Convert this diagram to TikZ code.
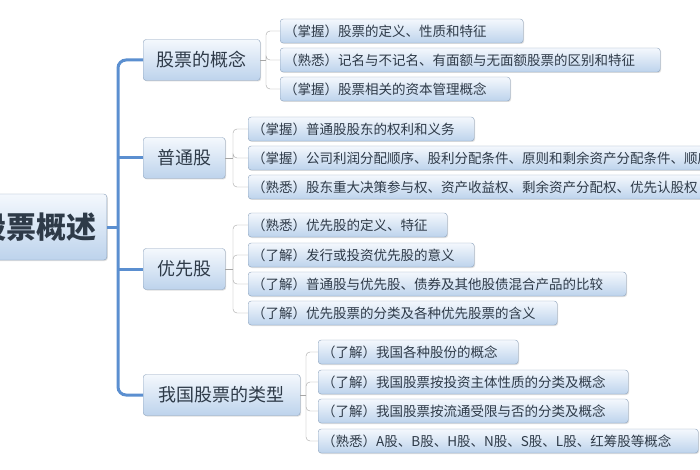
\documentclass[tikz,border=0pt]{standalone}
\usepackage{fontspec}
\setmainfont{Noto Sans CJK SC}
\usetikzlibrary{shadows}
\definecolor{boxtop}{HTML}{F4F8FD}
\definecolor{boxbot}{HTML}{BDD3EC}
\definecolor{boxline}{HTML}{8EA4BE}
\definecolor{trunkblue}{HTML}{5B8FD0}
\definecolor{inkgray}{HTML}{2E3A48}
\tikzset{
  box/.style={draw=boxline,rounded corners=3pt,top color=boxtop,bottom color=boxbot,
    text=inkgray,drop shadow={opacity=0.25,shadow xshift=1pt,shadow yshift=-1pt}},
  leaf/.style={box,anchor=west,minimum height=24pt,font=\fontsize{13.5}{14}\selectfont,
    align=left,inner xsep=4pt},
  topic/.style={box,anchor=west,minimum height=41pt,font=\fontsize{18}{19}\selectfont},
  trunk/.style={draw=trunkblue,line width=3pt,rounded corners=8pt},
  twig/.style={draw=gray!70,thin,rounded corners=4pt}
}
\begin{document}
\begin{tikzpicture}[x=1pt,y=-1pt]
\useasboundingbox (0,0) rectangle (700,470);
\clip (0,0) rectangle (700,470);
\fill[white] (0,0) rectangle (700,470);

% root and topics
\node[box,anchor=east,minimum height=66pt,inner xsep=10pt,font=\fontsize{30}{32}\selectfont\bfseries] (root) at (107,227) {股票概述};
\node[topic,minimum width=117pt] (c1) at (143,60) {股票的概念};
\node[topic,minimum width=82pt] (c2) at (143,158) {普通股};
\node[topic,minimum width=82pt] (c3) at (143,269) {优先股};
\node[topic,minimum width=157pt] (c4) at (143,395) {我国股票的类型};

\coordinate (tk) at (118,227);
\draw[trunk] (c1.west) -| (tk) |- (c4.west);
\draw[trunk] (root.east) -- (tk);
\draw[trunk] (tk|-c2.west) -- (c2.west);
\draw[trunk] (tk|-c3.west) -- (c3.west);

% leaves
\node[leaf,text width=235pt] (a1) at (280,31) {（掌握）股票的定义、性质和特征};
\node[leaf,text width=372pt] (a2) at (280,60) {（熟悉）记名与不记名、有面额与无面额股票的区别和特征};
\node[leaf,text width=222pt] (a3) at (280,89) {（掌握）股票相关的资本管理概念};

\node[leaf,text width=218pt] (b1) at (248,129) {（掌握）普通股股东的权利和义务};
\node[leaf,text width=500pt] (b2) at (248,158) {（掌握）公司利润分配顺序、股利分配条件、原则和剩余资产分配条件、顺序};
\node[leaf,text width=500pt] (b3) at (248,187) {（熟悉）股东重大决策参与权、资产收益权、剩余资产分配权、优先认股权};

\node[leaf,text width=191pt] (d1) at (248,225) {（熟悉）优先股的定义、特征};
\node[leaf,text width=218pt] (d2) at (248,255) {（了解）发行或投资优先股的意义};
\node[leaf,text width=370pt] (d3) at (248,284) {（了解）普通股与优先股、债券及其他股债混合产品的比较};
\node[leaf,text width=301pt] (d4) at (248,313) {（了解）优先股票的分类及各种优先股票的含义};

\node[leaf,text width=192pt] (e1) at (318,352) {（了解）我国各种股份的概念};
\node[leaf,text width=302pt] (e2) at (318,382) {（了解）我国股票按投资主体性质的分类及概念};
\node[leaf,text width=302pt] (e3) at (318,411) {（了解）我国股票按流通受限与否的分类及概念};
\node[leaf,text width=372pt] (e4) at (318,441) {（熟悉）A股、B股、H股、N股、S股、L股、红筹股等概念};

% connectors
\coordinate (ja) at (266,60);
\draw[twig] (c1.east) -- (ja);
\foreach \n in {a1,a2,a3} \draw[twig] (ja) |- (\n.west);
\coordinate (jb) at (233,158);
\draw[twig] (c2.east) -- (jb);
\foreach \n in {b1,b2,b3} \draw[twig] (jb) |- (\n.west);
\coordinate (jd) at (233,269);
\draw[twig] (c3.east) -- (jd);
\foreach \n in {d1,d2,d3,d4} \draw[twig] (jd) |- (\n.west);
\coordinate (je) at (306,395);
\draw[twig] (c4.east) -- (je);
\foreach \n in {e1,e2,e3,e4} \draw[twig] (je) |- (\n.west);
\end{tikzpicture}
\end{document}
